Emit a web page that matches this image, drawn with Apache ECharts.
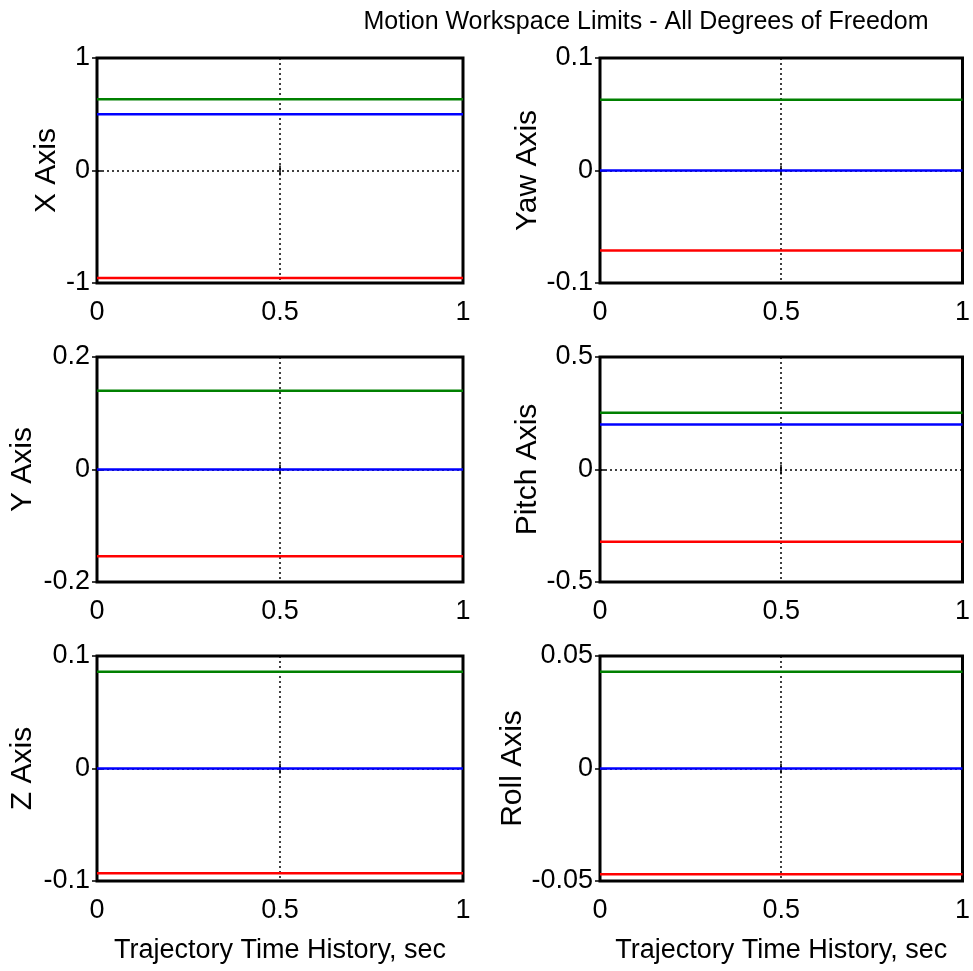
<!DOCTYPE html>
<html>
<head>
<meta charset="utf-8">
<script src="https://cdn.jsdelivr.net/npm/echarts@6.0.0/dist/echarts.min.js"></script>
<style>
  html, body { margin: 0; padding: 0; background: #fff; }
  #main { width: 973px; height: 971px; }
</style>
</head>
<body>
<div id="main"></div>
<script>
// data
var time = [0, 1];
var axisNames = ['X Axis', 'Y Axis', 'Z Axis', 'Yaw Axis', 'Pitch Axis', 'Roll Axis'];
var upperLimit = [0.633, 0.14, 0.086, 0.063, 0.252, 0.043];   // green
var nominal = [0.5, 0, 0, 0, 0.2, 0];                         // blue
var lowerLimit = [-0.956, -0.154, -0.093, -0.071, -0.321, -0.047]; // red
var yMax = [1, 0.2, 0.1, 0.1, 0.5, 0.05];
var xTicks = [0, 0.5, 1];

var FONT = '"Liberation Sans", Arial, sans-serif';
var myChart = echarts.init(document.getElementById('main'));

// grid layout: left column X,Y,Z ; right column Yaw,Pitch,Roll
var lefts = [97, 97, 97, 600, 600, 600];
var tops = [58, 357, 656, 58, 357, 656];
var nameGaps = [35, 59, 59, 55, 55, 72];

var grids = [], xAxes = [], yAxes = [], series = [];
for (var i = 0; i < 6; i++) {
    grids.push({
        left: lefts[i], top: tops[i], width: 366, height: 225,
        show: true, borderColor: '#000', borderWidth: 3, backgroundColor: '#fff'
    });
    var bottomRow = (i == 2 || i == 5);
    // main x axis
    xAxes.push({
        type: 'value', gridIndex: i, min: xTicks[0], max: xTicks[2], interval: 0.5,
        name: bottomRow ? 'Trajectory Time History, sec' : '',
        nameLocation: 'middle', nameGap: 56,
        nameTextStyle: { color: '#000', fontSize: 27, fontFamily: FONT },
        axisLine: { show: false },
        axisTick: { show: true, inside: true, length: 5, lineStyle: { color: '#000', width: 1.5 } },
        axisLabel: { color: '#000', fontSize: 27, fontFamily: FONT, margin: 16, showMinLabel: true, showMaxLabel: true },
        splitLine: { show: true, lineStyle: { color: '#000', type: [2, 3], width: 1.5 } }
    });
    // mirrored ticks on top
    xAxes.push({
        type: 'value', gridIndex: i, position: 'top', min: 0, max: 1, interval: 0.5,
        axisLine: { show: false },
        axisTick: { show: true, inside: true, length: 5, lineStyle: { color: '#000', width: 1.5 } },
        axisLabel: { show: false }, splitLine: { show: false }
    });
    // main y axis
    yAxes.push({
        type: 'value', gridIndex: i, min: -yMax[i], max: yMax[i], interval: yMax[i],
        name: axisNames[i], nameLocation: 'middle', nameGap: nameGaps[i],
        nameTextStyle: { color: '#000', fontSize: 30, fontFamily: FONT },
        axisLine: { show: false },
        axisTick: { show: true, inside: true, length: 5, lineStyle: { color: '#000', width: 1.5 } },
        axisLabel: { color: '#000', fontSize: 27, fontFamily: FONT, margin: 7, showMinLabel: true, showMaxLabel: true },
        splitLine: { show: true, lineStyle: { color: '#000', type: [2, 3], width: 1.5 } }
    });
    // mirrored ticks on right
    yAxes.push({
        type: 'value', gridIndex: i, position: 'right', min: -yMax[i], max: yMax[i], interval: yMax[i],
        axisLine: { show: false },
        axisTick: { show: true, inside: true, length: 5, lineStyle: { color: '#000', width: 1.5 } },
        axisLabel: { show: false }, splitLine: { show: false }
    });

    var sets = [[upperLimit, '#008000'], [nominal, '#0000ff'], [lowerLimit, '#ff0000']];
    for (var k = 0; k < sets.length; k++) {
        var v = sets[k][0][i];
        series.push({
            type: 'line', xAxisIndex: 2 * i, yAxisIndex: 2 * i,
            data: [[time[0], v], [time[1], v]],
            symbol: 'none', silent: true, animation: false,
            lineStyle: { color: sets[k][1], width: 2.5 }
        });
    }
}

var option = {
    animation: false,
    backgroundColor: '#fff',
    title: {
        text: 'Motion Workspace Limits - All Degrees of Freedom',
        left: 641, top: 5, textAlign: 'center',
        textStyle: { color: '#000', fontSize: 25, fontWeight: 'normal', fontFamily: FONT }
    },
    grid: grids,
    xAxis: xAxes,
    yAxis: yAxes,
    series: series
};
myChart.setOption(option);
</script>
</body>
</html>
